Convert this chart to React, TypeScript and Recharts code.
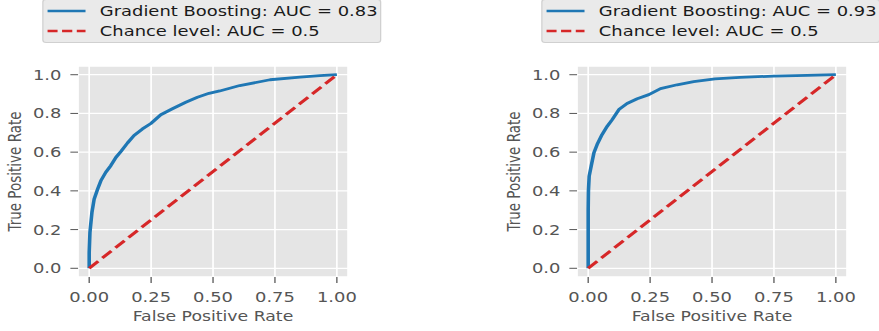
import React from 'react';
import { LineChart, Line, XAxis, YAxis, CartesianGrid } from 'recharts';

// ROC points
const fprLeft = [0, 0, 0.003, 0.011, 0.02, 0.034, 0.047, 0.067, 0.087, 0.108, 0.128, 0.155, 0.181, 0.215, 0.249, 0.289, 0.336, 0.39, 0.437, 0.484, 0.527, 0.608, 0.73, 0.851, 0.932, 1];
const tprLeft = [0, 0.081, 0.185, 0.288, 0.357, 0.409, 0.452, 0.496, 0.53, 0.573, 0.603, 0.648, 0.686, 0.72, 0.748, 0.793, 0.824, 0.858, 0.884, 0.904, 0.916, 0.944, 0.974, 0.988, 0.995, 1];

const fprRight = [0, 0, 0.001, 0.004, 0.012, 0.023, 0.036, 0.056, 0.077, 0.097, 0.124, 0.157, 0.198, 0.245, 0.292, 0.359, 0.426, 0.512, 0.613, 0.748, 0.884, 1];
const tprRight = [0, 0.304, 0.4, 0.476, 0.527, 0.596, 0.639, 0.691, 0.734, 0.768, 0.82, 0.851, 0.876, 0.897, 0.928, 0.948, 0.964, 0.978, 0.986, 0.993, 0.997, 1];

const chanceFpr = [0, 1];
const chanceTpr = [0, 1];

const aucValues = ['0.83', '0.93'];
const chanceAuc = '0.5';

const xTicks = [0, 0.25, 0.5, 0.75, 1];
const yTicks = [0, 0.2, 0.4, 0.6, 0.8, 1];

const BLUE = '#1f77b4';
const RED = '#d62728';
const GREY = '#555555';
const FONT = '"DejaVu Sans", sans-serif';

// the reference is stretched horizontally, so draw narrow and scale
const INNER_W = 687;
const SCALE_X = 879 / INNER_W;

const toPoints = (xs: number[], ys: number[]) => xs.map((x, i) => ({ fpr: x, tpr: ys[i] }));

const LegendBox = ({ auc }: { auc: string }) => {
  const rows = [
    { label: `Gradient Boosting: AUC = ${auc}`, color: BLUE, dash: undefined },
    { label: `Chance level: AUC = ${chanceAuc}`, color: RED, dash: '8 3.5' },
  ];
  return (
    <div
      style={{
        position: 'absolute', left: 33, top: -1, width: 265, height: 44,
        background: '#eaeaea', border: '1px solid #d0d0d0', borderRadius: 3,
        fontFamily: FONT, fontSize: 14, color: '#1a1a1a', boxSizing: 'border-box',
      }}
    >
      {rows.map((r, i) => (
        <div key={i} style={{ position: 'absolute', left: 0, top: 1 + 20 * i, height: 20, lineHeight: '20px', whiteSpace: 'nowrap' }}>
          <svg width={30} height={20} style={{ position: 'absolute', left: 3, top: 0 }}>
            <line x1={0} y1={10} x2={30} y2={10} stroke={r.color} strokeWidth={2.7} strokeDasharray={r.dash} />
          </svg>
          <span style={{ position: 'absolute', left: 44, top: 0 }}>{r.label}</span>
        </div>
      ))}
    </div>
  );
};

const RocPanel = ({ fpr, tpr, auc }: { fpr: number[]; tpr: number[]; auc: string }) => {
  const curve = toPoints(fpr, tpr);
  const chance = toPoints(chanceFpr, chanceTpr);
  return (
    <div style={{ position: 'relative', width: 297, height: 331 }}>
      <LineChart width={297} height={331} margin={{ top: 66, right: 25, bottom: 0, left: 0 }}>
        <CartesianGrid fill="#e5e5e5" fillOpacity={1} stroke="#ffffff" strokeWidth={1.3} />
        <XAxis
          type="number"
          dataKey="fpr"
          domain={[-0.045, 1.045]}
          ticks={xTicks}
          interval={0}
          tickFormatter={(v: number) => v.toFixed(2)}
          height={54}
          axisLine={false}
          tickSize={6}
          tickMargin={9}
          tickLine={{ stroke: GREY }}
          tick={{ fill: GREY, fontSize: 14, fontFamily: FONT }}
          label={{ value: 'False Positive Rate', position: 'insideBottom', offset: 9.5, fill: GREY, fontSize: 13.5, fontFamily: FONT }}
          allowDataOverflow
        />
        <YAxis
          type="number"
          dataKey="tpr"
          domain={[-0.045, 1.045]}
          ticks={yTicks}
          interval={0}
          tickFormatter={(v: number) => v.toFixed(1)}
          width={61}
          axisLine={false}
          tickSize={6}
          tickMargin={7}
          tickLine={{ stroke: GREY }}
          tick={{ fill: GREY, fontSize: 14, fontFamily: FONT }}
          label={{ value: 'True Positive Rate', angle: -90, position: 'insideLeft', offset: 12, fill: GREY, fontSize: 13.5, fontFamily: FONT, style: { textAnchor: 'middle' } }}
          allowDataOverflow
        />
        <Line data={curve} dataKey="tpr" type="linear" stroke={BLUE} strokeWidth={2.8} strokeLinejoin="round" dot={false} isAnimationActive={false} />
        <Line data={chance} dataKey="tpr" type="linear" stroke={RED} strokeWidth={2.8} strokeDasharray="10 4.5" dot={false} isAnimationActive={false} />
      </LineChart>
      <LegendBox auc={auc} />
    </div>
  );
};

export default function App() {
  return (
    <div style={{ position: 'absolute', left: 0, top: 0, width: 879, height: 331, overflow: 'hidden', background: '#ffffff' }}>
      <div
        style={{
          position: 'absolute', left: 0, top: 0, width: INNER_W, height: 331,
          transform: `scaleX(${SCALE_X})`, transformOrigin: '0 0',
        }}
      >
        <div style={{ position: 'absolute', left: 0, top: 0 }}>
          <RocPanel fpr={fprLeft} tpr={tprLeft} auc={aucValues[0]} />
        </div>
        <div style={{ position: 'absolute', left: 390, top: 0 }}>
          <RocPanel fpr={fprRight} tpr={tprRight} auc={aucValues[1]} />
        </div>
      </div>
    </div>
  );
}
